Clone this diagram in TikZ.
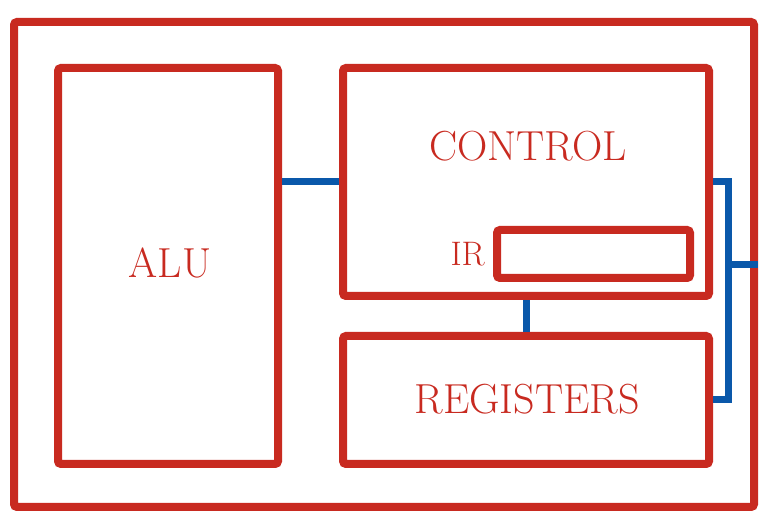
\documentclass[tikz,border=0pt]{standalone}
\definecolor{boxred}{RGB}{200,42,32}
\definecolor{busblue}{RGB}{10,88,170}
\tikzset{
    unit/.style={draw=boxred, line width=8pt, rounded corners=3pt, inner sep=0pt},
    bus/.style={draw=busblue, line width=7pt},
    lbl/.style={text=boxred, font=\fontsize{42}{48}\selectfont, inner sep=0pt}
}
\begin{document}
\begin{tikzpicture}[x=1pt,y=-1pt]%
        \useasboundingbox (0,0) rectangle (780,526);
        \node[unit, minimum width=740pt, minimum height=485pt] (cpu) at (384,264.5) {};
        \node[unit, minimum width=220pt, minimum height=396pt] (alu) at (168,266) {};
        \node[unit, minimum width=366pt, minimum height=228pt] (control) at (526,182) {};
        \node[unit, minimum width=193pt, minimum height=48pt] (ir) at (593.5,254) {};
        \node[unit, minimum width=366pt, minimum height=128pt] (registers) at (526,400) {};
        \node[lbl] (alutext) at (170,263) {ALU};
        \node[lbl] (controltext) at (528,146) {CONTROL};
        \node[lbl] (regtext) at (527,399) {REGISTERS};
        \node[lbl, font=\fontsize{34}{40}\selectfont, anchor=east] (irtext) at ([xshift=-8pt]ir.west) {IR};
        \coordinate (busx) at (728,0);
        \draw[bus] (control.west) -- (control.west -| alu.east);
        \draw[bus] (control.south) -- (registers.north);
        \draw[bus] (control.east) -- (control.east -| busx) -- (registers.east -| busx) -- (registers.east);
        \draw[bus] (cpu.east -| busx) -- (cpu.east);
    \end{tikzpicture}
\end{document}
